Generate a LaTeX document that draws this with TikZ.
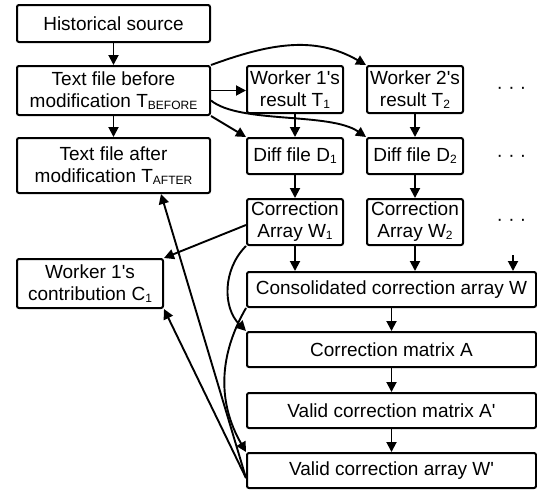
\documentclass[tikz,border=0pt]{standalone}
\usepackage{fontspec}
\setmainfont{Liberation Sans}
\usetikzlibrary{arrows.meta,calc}
\newcommand\subs[1]{\raisebox{-2pt}{\fontsize{12}{12}\selectfont #1}}
\newcommand\apos{\textquotesingle}
\begin{document}
\begin{tikzpicture}[x=1pt,y=-1pt,
 box/.style={draw,line width=2pt,rounded corners=2pt,align=center,inner sep=0pt,font=\fontsize{19}{22}\selectfont},
 arr/.style={line width=1.9pt,-{Triangle[length=10pt,width=10pt]}},
 dotsn/.style={font=\fontsize{19}{22}\selectfont,inner sep=0pt}]
\useasboundingbox (0,0) rectangle (537,490);
\node[box,minimum width=193pt,minimum height=37pt] (hist) at (113.5,23.5) {Historical source};
\node[box,minimum width=193pt,minimum height=49pt] (before) at (113.5,90.5) {Text file before\\modification T\subs{BEFORE}};
\node[box,minimum width=193pt,minimum height=55pt] (after) at (113.5,165.5) {Text file after\\modification T\subs{AFTER}};
\node[box,minimum width=96pt,minimum height=47pt] (w1r) at (295,89.5) {Worker 1\apos s\\result T\subs{1}};
\node[box,minimum width=96pt,minimum height=47pt] (w2r) at (415,89.5) {Worker 2\apos s\\result T\subs{2}};
\node[box,minimum width=96pt,minimum height=36pt] (d1) at (295,156) {Diff file D\subs{1}};
\node[box,minimum width=96pt,minimum height=36pt] (d2) at (415,156) {Diff file D\subs{2}};
\node[box,minimum width=96pt,minimum height=46pt] (cw1) at (295,222) {Correction\\Array W\subs{1}};
\node[box,minimum width=96pt,minimum height=46pt] (cw2) at (415,222) {Correction\\Array W\subs{2}};
\node[box,minimum width=146pt,minimum height=49pt] (contrib) at (90,283.5) {Worker 1\apos s\\contribution C\subs{1}};
\node[box,minimum width=289pt,minimum height=35pt] (cons) at (391.5,289.5) {Consolidated correction array W};
\node[box,minimum width=289pt,minimum height=35pt] (A) at (391.5,349.5) {Correction matrix A};
\node[box,minimum width=289pt,minimum height=35pt] (Ap) at (391.5,410.5) {Valid correction matrix A\apos};
\node[box,minimum width=289pt,minimum height=35pt] (Wp) at (391.5,470.5) {Valid correction array W\apos};
\node[dotsn] (dot1) at (511.5,90) {· · ·};
\node[dotsn] (dot2) at (511.5,158) {· · ·};
\node[dotsn] (dot3) at (511.5,222) {· · ·};
\coordinate (dd) at (513,255);
\coordinate (ws) at ([yshift=-7.5pt]Wp.west);
\draw[arr] (hist) -- (before);
\draw[arr] (before) -- (after);
\draw[arr] (before.east) -- (before.east -| w1r.west);
\draw[arr] (before.south east) -- (d1.north west);
\draw[arr] (before.north east) to[out=20,in=150] (w2r.north west);
\draw[arr] ([yshift=-10pt]before.east) .. controls (240,124) and (330,112) .. (d2.north west);
\draw[arr] (w1r) -- (d1);
\draw[arr] (w2r) -- (d2);
\draw[arr] (d1) -- (cw1);
\draw[arr] (d2) -- (cw2);
\draw[arr] (cw1.south) -- (cw1.south |- cons.north);
\draw[arr] (cw2.south) -- (cw2.south |- cons.north);
\draw[arr] (dd) -- (dd |- cons.north);
\draw[arr] (cons) -- (A);
\draw[arr] (A) -- (Ap);
\draw[arr] (Ap) -- (Wp);
\draw[arr] ([yshift=-3pt]cw1.west) -- (contrib.north east);
\draw[arr] (cw1.south west) to[out=225,in=135] (A.north west);
\draw[arr] (cons.south west) to[out=240,in=120] (Wp.north west);
\draw[arr] (ws) -- (contrib.south east);
\draw[arr] (ws) -- ([xshift=-50pt]after.south east);
\end{tikzpicture}
\end{document}
